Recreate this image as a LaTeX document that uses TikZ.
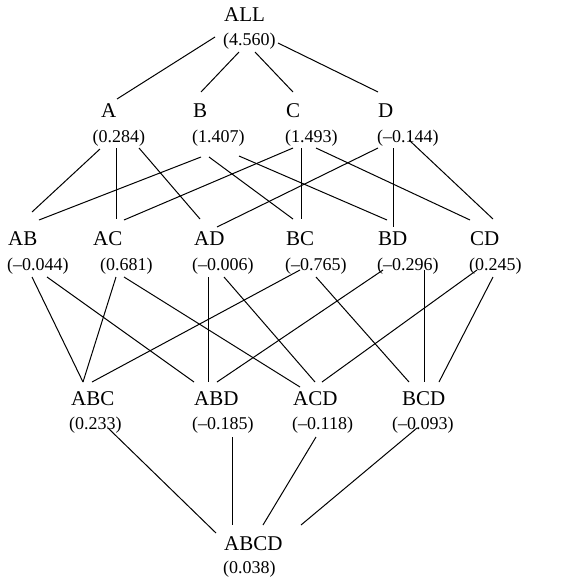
\documentclass[tikz,border=0pt]{standalone}
\usepackage{fontspec}
\setmainfont{Liberation Serif}
\begin{document}
\begin{tikzpicture}[x=1pt,y=-1pt,
  nm/.style={inner sep=0pt,anchor=base west,font=\fontsize{21}{24}\selectfont},
  vl/.style={inner sep=0pt,anchor=base west,font=\fontsize{18}{20}\selectfont},
  conn/.style={line width=1pt,black}]
\useasboundingbox (0,0) rectangle (577,581);
% level 0
\node[nm] (ALL) at (224,21) {ALL};
\node[vl] (ALLv) at (223,45) {(4.560)};
% level 1
\node[nm] (A) at (101,117) {A};
\node[vl] (Av) at (92.5,142) {(0.284)};
\node[nm] (B) at (193,117) {B};
\node[vl] (Bv) at (192,142) {(1.407)};
\node[nm] (C) at (286,117) {C};
\node[vl] (Cv) at (285,142) {(1.493)};
\node[nm] (D) at (378,117) {D};
\node[vl] (Dv) at (377,142) {(–0.144)};
% level 2
\node[nm] (AB) at (8,245) {AB};
\node[vl] (ABv) at (7,270) {(–0.044)};
\node[nm] (AC) at (93,245) {AC};
\node[vl] (ACv) at (100,270) {(0.681)};
\node[nm] (AD) at (194,245) {AD};
\node[vl] (ADv) at (192,270) {(–0.006)};
\node[nm] (BC) at (286,245) {BC};
\node[vl] (BCv) at (285,270) {(–0.765)};
\node[nm] (BD) at (378,245) {BD};
\node[vl] (BDv) at (377,270) {(–0.296)};
\node[nm] (CD) at (470,245) {CD};
\node[vl] (CDv) at (469,270) {(0.245)};
% level 3
\node[nm] (ABC) at (71,405) {ABC};
\node[vl] (ABCv) at (69,429) {(0.233)};
\node[nm] (ABD) at (194,405) {ABD};
\node[vl] (ABDv) at (192,429) {(–0.185)};
\node[nm] (ACD) at (293,405) {ACD};
\node[vl] (ACDv) at (292,429) {(–0.118)};
\node[nm] (BCD) at (402,405) {BCD};
\node[vl] (BCDv) at (392,429) {(–0.093)};
% level 4
\node[nm] (ABCD) at (224,550) {ABCD};
\node[vl] (ABCDv) at (223,573) {(0.038)};
% connectors level 0-1
\draw[conn] ([shift={(-8,-8)}]ALLv.base west) -- ([shift={(16,-18)}]A.base west);
\draw[conn] ([shift={(16,7)}]ALLv.base west) -- ([shift={(8,-25)}]B.base west);
\draw[conn] ([shift={(32,7)}]ALLv.base west) -- ([shift={(7,-25)}]C.base west);
\draw[conn] ([shift={(55,-2)}]ALLv.base west) -- ([shift={(0,-25)}]D.base west);
% level 1-2
\draw[conn] ([shift={(7.5,7)}]Av.base west) -- ([shift={(24,-33)}]AB.base west);
\draw[conn] ([shift={(24,6)}]Av.base west) -- ([shift={(23.5,-26)}]AC.base west);
\draw[conn] ([shift={(46.5,6)}]Av.base west) -- ([shift={(6,-26)}]AD.base west);
\draw[conn] ([shift={(9,15)}]Bv.base west) -- ([shift={(31,-25)}]AB.base west);
\draw[conn] ([shift={(17,15)}]Bv.base west) -- ([shift={(7,-26)}]BC.base west);
\draw[conn] ([shift={(47,14)}]Bv.base west) -- ([shift={(9,-25)}]BD.base west);
\draw[conn] ([shift={(8,6)}]Cv.base west) -- ([shift={(31,-25)}]AC.base west);
\draw[conn] ([shift={(16.5,6)}]Cv.base west) -- ([shift={(15.5,-26)}]BC.base west);
\draw[conn] ([shift={(31,6)}]Cv.base west) -- ([shift={(0,-25)}]CD.base west);
\draw[conn] ([shift={(1,6)}]Dv.base west) -- ([shift={(23,-18)}]AD.base west);
\draw[conn] ([shift={(16.5,6)}]Dv.base west) -- ([shift={(15.5,-18)}]BD.base west);
\draw[conn] ([shift={(32,-2)}]Dv.base west) -- ([shift={(23,-26)}]CD.base west);
% level 2-3
\draw[conn] ([shift={(25,7)}]ABv.base west) -- ([shift={(12,-23)}]ABC.base west);
\draw[conn] ([shift={(40,7)}]ABv.base west) -- ([shift={(0,-23)}]ABD.base west);
\draw[conn] ([shift={(16,7)}]ACv.base west) -- ([shift={(12,-23)}]ABC.base west);
\draw[conn] ([shift={(24,7)}]ACv.base west) -- ([shift={(7,-18)}]ACD.base west);
\draw[conn] ([shift={(16.5,7)}]ADv.base west) -- ([shift={(14.5,-23)}]ABD.base west);
\draw[conn] ([shift={(32,7)}]ADv.base west) -- ([shift={(22,-23)}]ACD.base west);
\draw[conn] ([shift={(15,0)}]BCv.base west) -- ([shift={(21,-23)}]ABC.base west);
\draw[conn] ([shift={(31,7)}]BCv.base west) -- ([shift={(7,-23)}]BCD.base west);
\draw[conn] ([shift={(6,0)}]BDv.base west) -- ([shift={(23,-23)}]ABD.base west);
\draw[conn] ([shift={(47.5,0)}]BDv.base west) -- ([shift={(22.5,-23)}]BCD.base west);
\draw[conn] ([shift={(8,0)}]CDv.base west) -- ([shift={(29,-23)}]ACD.base west);
\draw[conn] ([shift={(24,7)}]CDv.base west) -- ([shift={(37,-23)}]BCD.base west);
% level 3-4
\draw[conn] ([shift={(39,-1)}]ABCv.base west) -- ([shift={(-8,-17)}]ABCD.base west);
\draw[conn] ([shift={(40.5,8)}]ABDv.base west) -- ([shift={(8.5,-25)}]ABCD.base west);
\draw[conn] ([shift={(24,8)}]ACDv.base west) -- ([shift={(39,-25)}]ABCD.base west);
\draw[conn] ([shift={(25,-1)}]BCDv.base west) -- ([shift={(77,-25)}]ABCD.base west);
\end{tikzpicture}
\end{document}
